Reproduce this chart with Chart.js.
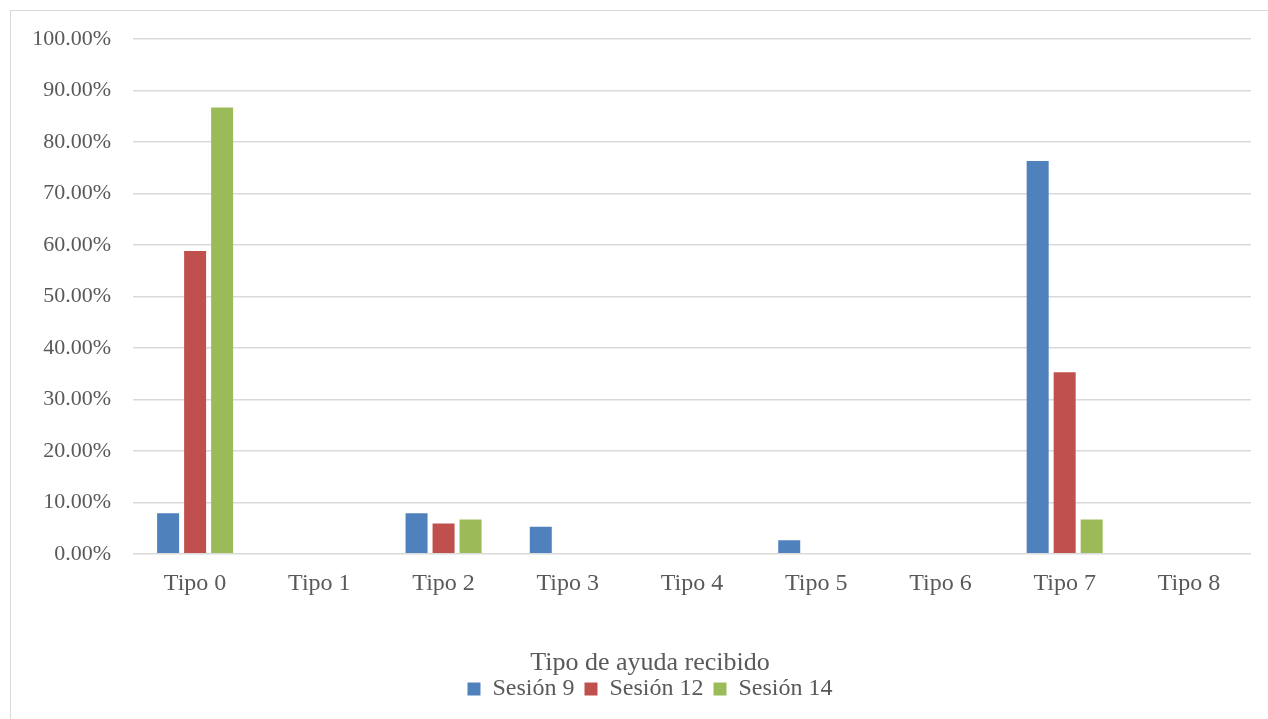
<!DOCTYPE html>
<html>
<head>
<meta charset="utf-8">
<script src="https://cdn.jsdelivr.net/npm/chart.js@4"></script>
<style>
  html, body { margin: 0; padding: 0; background: #fff; }
  #wrap { width: 1268px; height: 719px; position: relative; }
</style>
</head>
<body>
<div id="wrap"><canvas id="ayudaChart"></canvas></div>
<script>
// Datos
const categorias = ["Tipo 0", "Tipo 1", "Tipo 2", "Tipo 3", "Tipo 4", "Tipo 5", "Tipo 6", "Tipo 7", "Tipo 8"];
const sesion9 = [7.89, 0, 7.89, 5.26, 0, 2.63, 0, 76.32, 0];
const sesion12 = [58.82, 0, 5.88, 0, 0, 0, 0, 35.29, 0];
const sesion14 = [86.67, 0, 6.67, 0, 0, 0, 0, 6.67, 0];
const yTicks = [0, 10, 20, 30, 40, 50, 60, 70, 80, 90, 100];

const textColor = "#595959";
const gridColor = "#d9d9d9";
const serif = "'Liberation Serif', 'Times New Roman', serif";

// Marco exterior del gráfico (como en Excel)
const chartBorder = {
    id: "chartBorder",
    beforeDraw(chart) {
        const c = chart.ctx;
        c.save();
        c.fillStyle = "#fff";
        c.fillRect(0, 0, chart.width, chart.height);
        c.strokeStyle = gridColor;
        c.lineWidth = 1;
        c.strokeRect(10.5, 10.5, chart.width + 20, chart.height + 20);
        c.restore();
    }
};

const ctx = document.getElementById("ayudaChart").getContext("2d");
new Chart(ctx, {
    type: "bar",
    data: {
        labels: categorias,
        datasets: [
            { label: "Sesión 9", data: sesion9, backgroundColor: "#4F81BD" },
            { label: "Sesión 12", data: sesion12, backgroundColor: "#C0504D" },
            { label: "Sesión 14", data: sesion14, backgroundColor: "#9BBB59" },
        ],
    },
    options: {
        responsive: true,
        maintainAspectRatio: false,
        animation: false,
        categoryPercentage: 0.652,
        barPercentage: 0.815,
        layout: { padding: { top: 39, left: 32, right: 0, bottom: 8 } },
        plugins: {
            tooltip: { enabled: false },
            // título del eje, centrado sobre todo el gráfico
            title: {
                display: true,
                position: "bottom",
                weight: 500,
                text: "Tipo de ayuda recibido",
                color: textColor,
                font: { family: serif, size: 26, weight: "normal" },
                padding: { top: 2, bottom: -12 },
            },
            legend: {
                position: "bottom",
                labels: {
                    color: textColor,
                    font: { family: serif, size: 24 },
                    boxWidth: 13,
                    boxHeight: 13,
                    padding: 10,
                },
            },
        },
        scales: {
            x: {
                grid: { display: false, drawTicks: false },
                border: { display: false },
                ticks: { color: textColor, font: { family: serif, size: 24 }, padding: 16 },
                afterFit: (s) => { s.height = 92; },
            },
            y: {
                min: 0,
                max: 100,
                afterBuildTicks: (s) => { s.ticks = yTicks.map((v) => ({ value: v })); },
                grid: { color: gridColor, lineWidth: 1.5, drawTicks: false },
                border: { display: false },
                ticks: {
                    color: textColor,
                    font: { family: serif, size: 22 },
                    padding: 22,
                    callback: (v) => v.toFixed(2) + "%",
                },
                afterFit: (s) => { s.width = 101; },
            },
            // eje vacío a la derecha, solo para dejar el margen
            yR: {
                position: "right",
                grid: { display: false },
                border: { display: false },
                ticks: { display: false },
                afterFit: (s) => { s.width = 17; },
            },
        },
    },
    plugins: [chartBorder],
});
</script>
</body>
</html>
